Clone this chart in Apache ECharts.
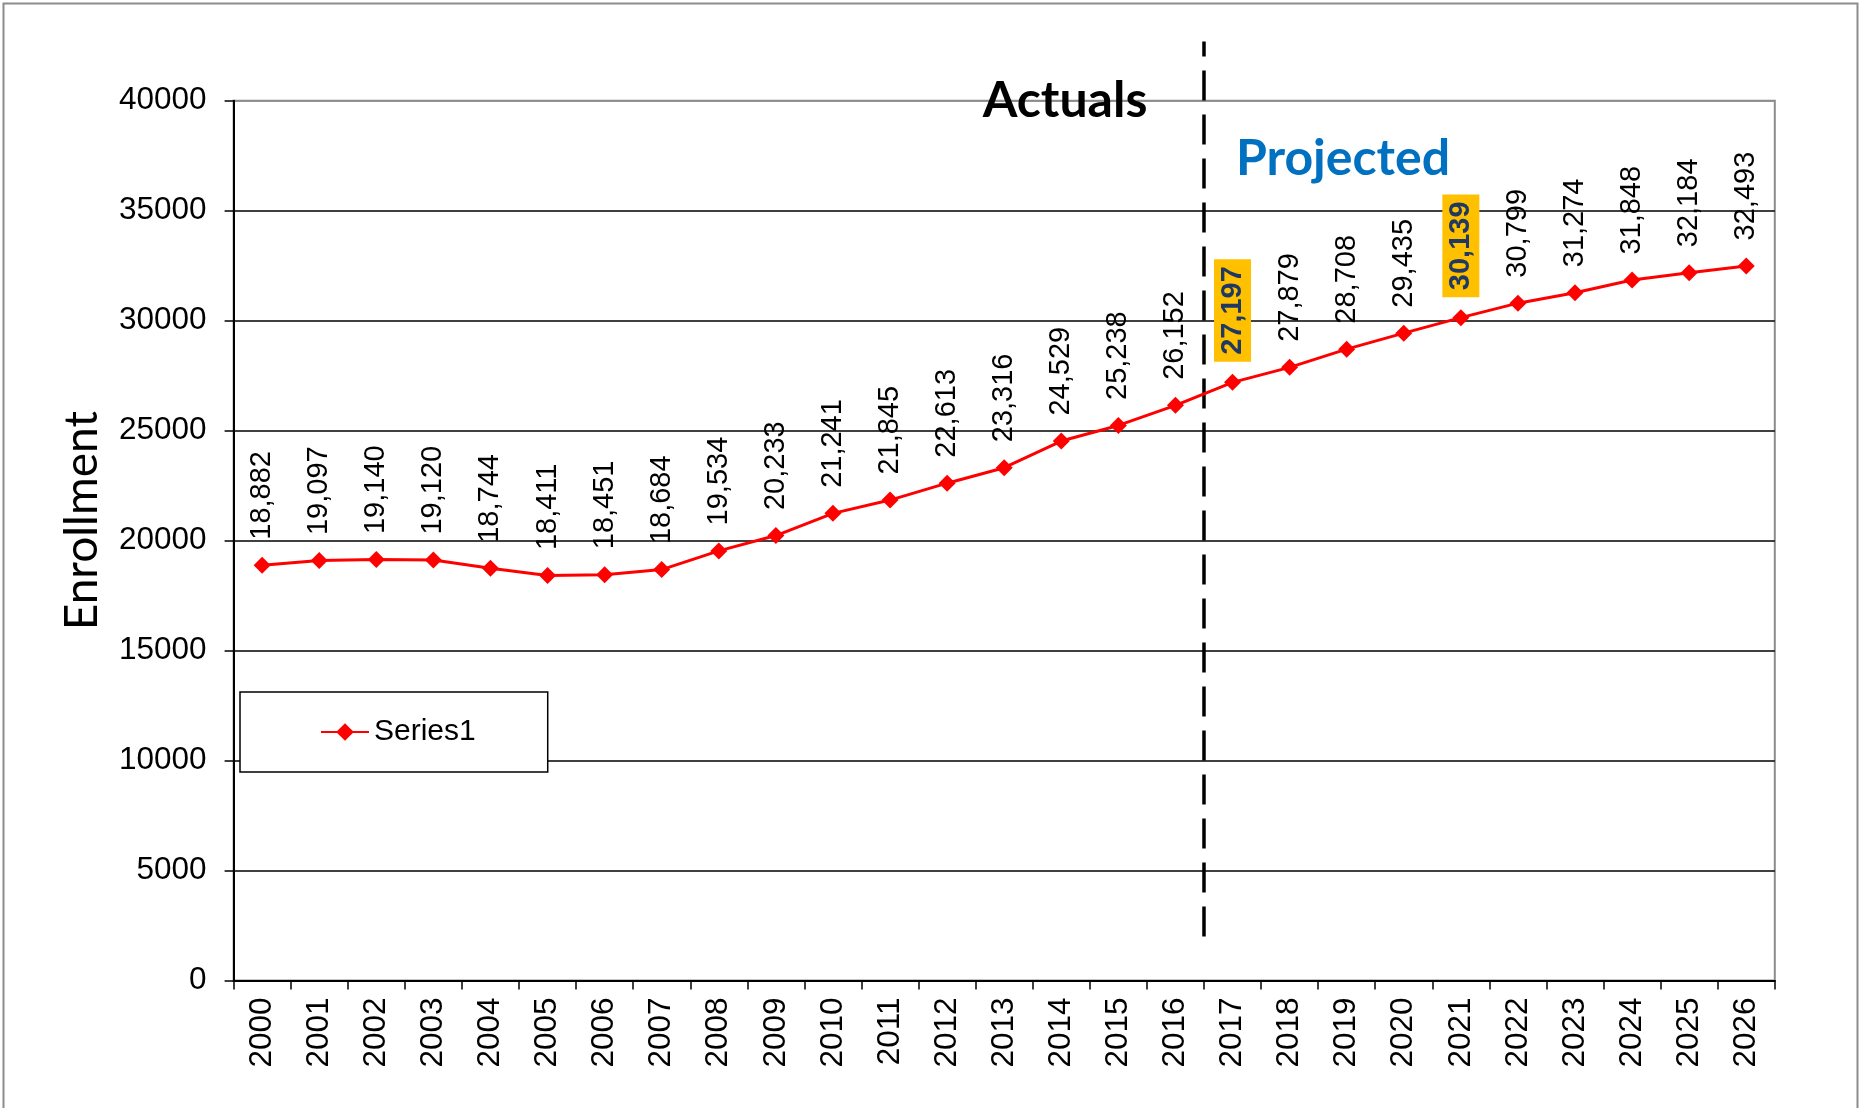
<!DOCTYPE html>
<html>
<head>
<meta charset="utf-8">
<script src="https://cdn.jsdelivr.net/npm/echarts@6/dist/echarts.min.js"></script>
<style>html,body{margin:0;padding:0;background:#fff}#c{width:1859px;height:1108px}</style>
</head>
<body>
<div id="c"></div>
<script>
const years = ['2000','2001','2002','2003','2004','2005','2006','2007','2008','2009','2010','2011','2012','2013','2014','2015','2016','2017','2018','2019','2020','2021','2022','2023','2024','2025','2026'];
const enrollment = [18882,19097,19140,19120,18744,18411,18451,18684,19534,20233,21241,21845,22613,23316,24529,25238,26152,27197,27879,28708,29435,30139,30799,31274,31848,32184,32493];
const highlighted = ['2017','2021'];
const dividerYear = 17;           // boundary index between actuals and projections
const dividerRange = [2000, 42700];
const yTicks = [0,5000,10000,15000,20000,25000,30000,35000,40000];

const chart = echarts.init(document.getElementById('c'));
const fmt = v => v.toLocaleString('en-US');
const FONT = '"Liberation Sans", Arial, sans-serif';

const seriesData = enrollment.map((v, i) => {
  const d = { value: v };
  if (highlighted.includes(years[i])) {
    d.label = {
      backgroundColor: '#FFC000', color: '#1F3864', fontWeight: 'bold',
      padding: [5, 7, 3, 7], distance: 12
    };
  }
  return d;
});

const splitColors = yTicks.map((t, i) => i === yTicks.length - 1 ? '#8c8c8c' : '#000');

chart.setOption({
  animation: false,
  backgroundColor: '#fff',
  grid: { left: 233.6, right: 84.2, top: 100.8, bottom: 127.5, show: true, borderColor: '#8c8c8c', borderWidth: 2, backgroundColor: 'transparent' },
  legend: {
    show: true, left: 240, top: 692, orient: 'vertical',
    backgroundColor: '#fff', borderColor: '#000', borderWidth: 1.5,
    padding: [25, 72, 25, 80], itemWidth: 48, itemHeight: 22, itemGap: 10,
    textStyle: { fontFamily: FONT, fontSize: 30, color: '#000' },
    data: ['Series1']
  },
  xAxis: [{
    type: 'category', data: years, boundaryGap: true,
    axisLine: { lineStyle: { color: '#000', width: 2 } },
    axisTick: { show: true, length: 9, inside: false, alignWithLabel: false, lineStyle: { color: '#000', width: 1.5 } },
    axisLabel: { rotate: 90, fontFamily: FONT, fontSize: 31.5, color: '#000', margin: 17, interval: 0 },
    splitLine: { show: false }
  }, {
    type: 'value', min: 0, max: years.length, show: false
  }],
  yAxis: {
    type: 'value', min: 0, max: 40000, interval: 5000,
    name: 'Enrollment', nameLocation: 'middle', nameGap: 128, nameRotate: 90,
    nameTextStyle: { fontFamily: 'Lato, "Open Sans", sans-serif', fontSize: 46, color: '#000', padding: [0, 0, 0, 40] },
    axisLine: { show: true, lineStyle: { color: '#000', width: 2 } },
    axisTick: { show: true, length: 9, lineStyle: { color: '#000', width: 1.5 } },
    axisLabel: { fontFamily: FONT, fontSize: 31.5, color: '#000', margin: 27, formatter: v => String(v) },
    splitLine: { show: true, lineStyle: { color: splitColors, width: 1.5 } }
  },
  series: [{
    name: 'Series1', type: 'line', xAxisIndex: 0, data: seriesData,
    symbol: 'diamond', symbolSize: 17,
    itemStyle: { color: '#FF0000' },
    lineStyle: { color: '#FF0000', width: 3 },
    label: {
      show: true, position: 'top', rotate: 90, align: 'left', verticalAlign: 'middle',
      distance: 17, fontFamily: FONT, fontSize: 29, color: '#000',
      formatter: p => fmt(p.value)
    },
    z: 3
  }, {
    name: 'divider', type: 'line', xAxisIndex: 1, clip: false, silent: true,
    symbol: 'none', data: [[dividerYear, dividerRange[0]], [dividerYear, dividerRange[1]]],
    lineStyle: { color: '#000', width: 3.5, type: [30, 14] }, z: 2
  }],
  graphic: [
    { type: 'rect', left: 1, top: 1, shape: { width: 1854, height: 1130 }, style: { fill: 'none', stroke: '#8c8c8c', lineWidth: 2 }, z: -10, silent: true },
    { type: 'text', x: 1065, y: 101, style: { text: 'Actuals', font: 'bold 50px Lato, "Open Sans", sans-serif', fill: '#000', align: 'center', verticalAlign: 'middle' }, z: 10 },
    { type: 'text', x: 1343, y: 159, style: { text: 'Projected', font: 'bold 50px Lato, "Open Sans", sans-serif', fill: '#0070C0', align: 'center', verticalAlign: 'middle' }, z: 10 }
  ]
});
</script>
</body>
</html>
